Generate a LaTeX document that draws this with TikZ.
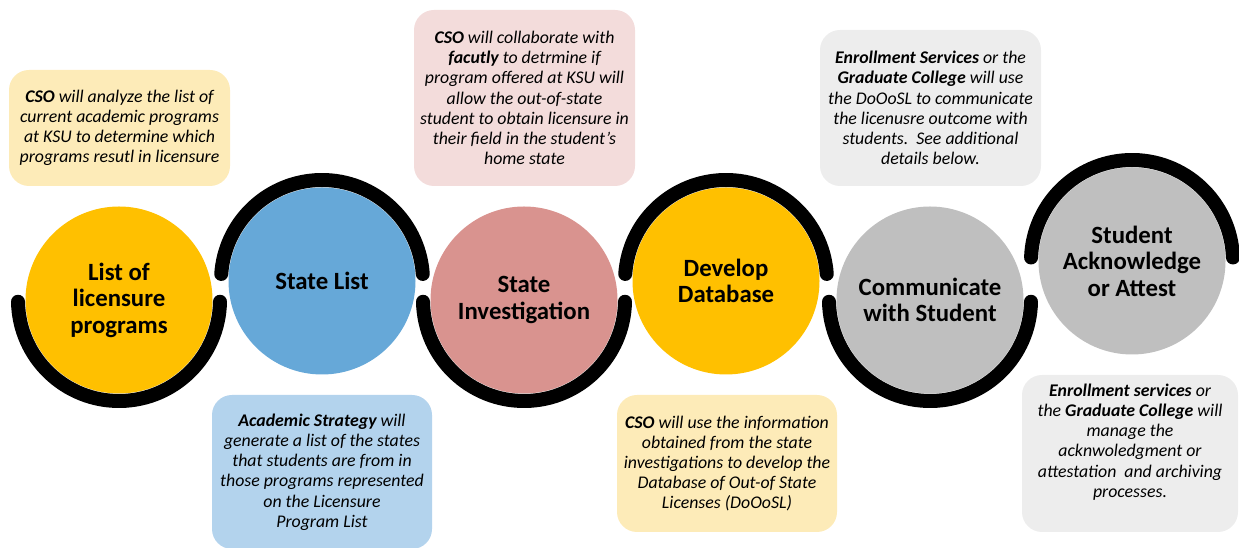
\documentclass[tikz,border=0pt]{standalone}
\usepackage{fontspec}
\setmainfont{Carlito}
\definecolor{yel}{HTML}{FFC000}
\definecolor{blu}{HTML}{66A8D8}
\definecolor{pnk}{HTML}{D9938F}
\definecolor{gry}{HTML}{BFBFBF}
\definecolor{lyel}{HTML}{FDEBB8}
\definecolor{lpnk}{HTML}{F3DCDB}
\definecolor{lgry}{HTML}{EDEDED}
\definecolor{lblu}{HTML}{B3D3ED}
\tikzset{
  stage/.style={circle, draw=none, inner sep=0pt, minimum size=187pt, align=center,
    font=\fontsize{24.8}{26.5}\selectfont\bfseries},
  ring/.style={line width=14pt, line cap=round, black},
  note/.style={rounded corners=20pt, draw=none, inner sep=0pt, align=center,
    font=\fontsize{17.8}{20.2}\selectfont\itshape},
  notetext/.style={inner sep=0pt, align=center, font=\fontsize{17.8}{20.2}\selectfont\itshape}
}
\newcommand{\bi}[1]{\textbf{\textit{#1}}}
\begin{document}
\begin{tikzpicture}[x=1pt,y=1pt]
\useasboundingbox (0,0) rectangle (1239,548);
% circles
\node[stage, fill=yel] (c1) at (119,248) {List of\\licensure\\programs};
\node[stage, fill=blu] (c2) at (322,267) {State List};
\node[stage, fill=pnk] (c3) at (524,248) {State\\Investigation};
\node[stage, fill=yel] (c4) at (726,267) {Develop\\Database};
\node[stage, fill=gry] (c5) at (930,248) {Communicate\\with Student};
\node[stage, fill=gry] (c6) at (1132,287) {Student\\Acknowledge\\or Attest};
% rings
\draw[ring] ([shift={(181:101)}]c1.center) arc[start angle=181, end angle=359, radius=101];
\draw[ring] ([shift={(4:101)}]c2.center) arc[start angle=4, end angle=176, radius=101];
\draw[ring] ([shift={(181:101)}]c3.center) arc[start angle=181, end angle=359, radius=101];
\draw[ring] ([shift={(4:101)}]c4.center) arc[start angle=4, end angle=176, radius=101];
\draw[ring] ([shift={(181:101)}]c5.center) arc[start angle=181, end angle=359, radius=101];
\draw[ring] ([shift={(2:101)}]c6.center) arc[start angle=2, end angle=178, radius=101];
% notes
\node[note, fill=lyel, minimum width=221pt, minimum height=116pt] (b1) at (119.5,420)
  {\bi{CSO} will analyze the list of\\current academic programs\\at KSU to determine which\\programs resutl in licensure};
\node[note, fill=lpnk, minimum width=221pt, minimum height=176pt] (b2) at (524.5,450)
  {\bi{CSO} will collaborate with\\\bi{facutly} to detrmine if\\program offered at KSU will\\allow the out-of-state\\student to obtain licensure in\\their field in the student's\\home state};
\node[note, fill=lgry, minimum width=221pt, minimum height=156pt] (b3) at (930.5,440)
  {\bi{Enrollment Services} or the\\\bi{Graduate College} will use\\the DoOoSL to communicate\\the licenusre outcome with\\students.\ \ See additional\\details below.};
\node[note, fill=lblu, minimum width=220pt, minimum height=154pt] (b4) at (322,76)
  {\bi{Academic Strategy} will\\generate a list of the states\\that students are from in\\those programs represented\\on the Licensure\\Program List};
\node[note, fill=lyel, minimum width=220pt, minimum height=137pt] (b5) at (727,84.5)
  {\bi{CSO} will use the information\\obtained from the state\\investigations to develop the\\Database of Out-of State\\Licenses (DoOoSL)};
\node[note, fill=lgry, minimum width=216pt, minimum height=157pt] (b6) at (1130,94.5) {};
\node[notetext] (t6) at (1130,106)
  {\bi{Enrollment services} or\\the \bi{Graduate College} will\\manage the\\acknwoledgment or\\attestation\ \ and archiving\\processes.};
\end{tikzpicture}
\end{document}
